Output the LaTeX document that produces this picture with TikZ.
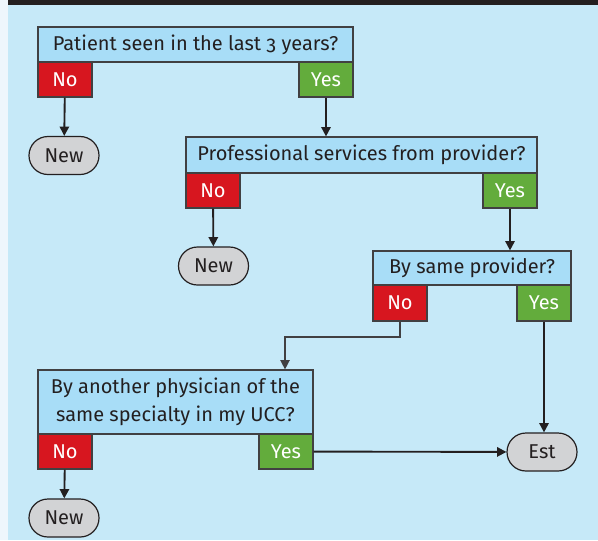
\documentclass[tikz,border=0pt]{standalone}
\usepackage{fontspec}
\setmainfont{Fira Sans}[Numbers=OldStyle]
\usepackage{xcolor}
\usepackage{tikz}
\usetikzlibrary{arrows.meta}

\definecolor{pagestrip}{RGB}{238,246,252}
\definecolor{panelblue}{RGB}{198,233,248}
\definecolor{topbar}{RGB}{35,31,32}
\definecolor{askblue}{RGB}{168,221,247}
\definecolor{noRed}{RGB}{215,22,31}
\definecolor{yesGreen}{RGB}{99,172,60}
\definecolor{endGray}{RGB}{210,211,213}
\definecolor{inkDark}{RGB}{35,31,32}
\definecolor{lineGray}{RGB}{65,64,66}

\tikzset{
  ask/.style={draw=lineGray, fill=askblue, line width=0.9pt, inner sep=0pt,
    align=center, text=inkDark, font=\fontsize{15}{21}\selectfont},
  nobox/.style={draw=lineGray, fill=noRed, line width=0.9pt, inner sep=0pt,
    minimum width=40.5pt, minimum height=26.25pt, text=white,
    font=\fontsize{15}{18}\selectfont},
  yesbox/.style={nobox, fill=yesGreen},
  outcome/.style={draw=inkDark, fill=endGray, line width=0.9pt, inner sep=0pt,
    minimum width=52.5pt, minimum height=28.5pt, rounded corners=14.2pt,
    text=inkDark, font=\fontsize{15}{18}\selectfont},
  flow/.style={draw=inkDark, line width=1.4pt, -{Triangle[length=7pt,width=7pt]}},
}

\begin{document}
\begin{tikzpicture}[x=0.75pt,y=0.75pt,yscale=-1,xscale=1]
\useasboundingbox (0,0) rectangle (598,540);

% background
\fill[pagestrip] (0,0) rectangle (598,540);
\fill[panelblue] (8,0) rectangle (598,540);
\fill[topbar] (8,0) rectangle (598,5);

% Question 1
\node[ask, minimum width=236.25pt, minimum height=26.25pt] (ask1) at (195.5,44.5) {Patient seen in the last 3 years?};
\node[nobox] (no1) at (65,79.5) {No};
\node[yesbox] (yes1) at (326,79.5) {Yes};
\node[outcome] (new1) at (64,155.5) {New};

% Question 2
\node[ask, minimum width=263.25pt, minimum height=27pt] (ask2) at (361.5,155) {Professional services from provider?};
\node[nobox] (no2) at (213,190.5) {No};
\node[yesbox] (yes2) at (510,190.5) {Yes};
\node[outcome] (new2) at (213.5,266) {New};

% Question 3
\node[ask, minimum width=148.5pt, minimum height=25.5pt] (ask3) at (472,268) {By same provider?};
\node[nobox, minimum height=27pt] (no3) at (400,303) {No};
\node[yesbox, minimum height=27pt] (yes3) at (544,303) {Yes};

% Question 4
\node[ask, minimum width=206.25pt, minimum height=48pt] (ask4) at (175.5,402) {By another physician of the\\same specialty in my UCC?};
\node[nobox] (no4) at (65,451.5) {No};
\node[yesbox] (yes4) at (286,451.5) {Yes};
\node[outcome] (new3) at (64,518) {New};
\node[outcome] (est) at (542,452) {Est};

% connectors
\coordinate (turn) at (285,337);
\draw[flow] (no1) -- (new1);
\draw[flow] (yes1.south) -- (yes1.south |- ask2.north);
\draw[flow] (no2) -- (new2);
\draw[flow] (yes2.south) -- (yes2.south |- ask3.north);
\draw[flow, draw=lineGray, line width=1pt] (no3.south) |- (turn) -- (turn |- ask4.north);
\draw[flow] (yes3.south) -- (yes3.south |- est.north);
\draw[flow] (yes4) -- (est);
\draw[flow] (no4) -- (new3);

\end{tikzpicture}
\end{document}
